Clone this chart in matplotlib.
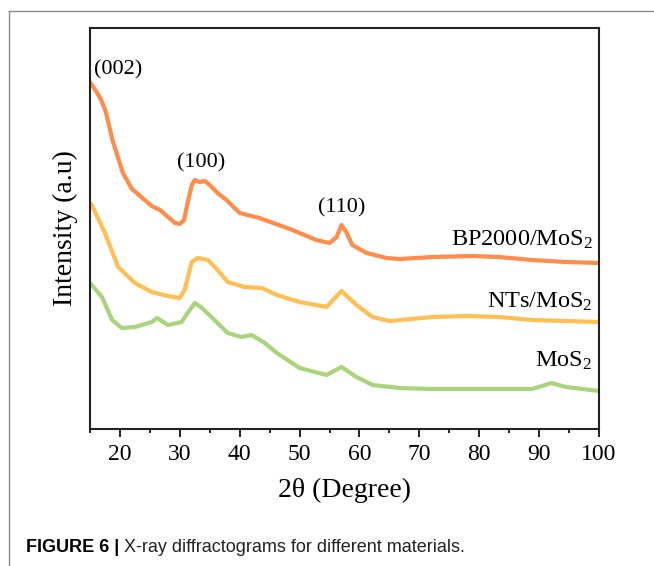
import matplotlib
matplotlib.use("Agg")
import matplotlib.pyplot as plt
from matplotlib.lines import Line2D
from matplotlib.ticker import MultipleLocator

plt.rcParams['font.family'] = ['Liberation Serif', 'DejaVu Serif']
plt.rcParams['mathtext.fontset'] = 'custom'
plt.rcParams['mathtext.rm'] = 'Liberation Serif'
plt.rcParams['mathtext.default'] = 'regular'

# ---------------- data (2theta in degrees, intensity in arbitrary units) ----
bp_x = [15.0, 16.0, 16.8, 17.6, 18.8, 20.5, 22.0, 22.8, 25.3, 26.7, 29.2, 30.0,
        30.7, 31.3, 32.0, 32.5, 33.3, 34.2, 35.0, 36.3, 37.8, 40.0, 43.3, 48.8,
        52.8, 55.0, 56.2, 57.0, 57.8, 58.8, 61.2, 64.5, 66.7, 72.2, 78.8, 83.3,
        88.8, 94.5, 100.0]
bp_y = [347, 338, 330, 318, 288, 256, 240, 236, 223, 219, 206, 205,
        209, 226, 244, 249, 247, 248, 244, 236, 229, 216, 211, 199,
        189, 186, 192, 204, 197, 184, 176, 171, 170, 172, 173, 172,
        169, 167, 166]

nts_x = [15.0, 15.3, 17.5, 19.7, 22.5, 25.3, 28.0, 30.0, 30.8, 32.0, 33.0, 34.7,
         36.3, 38.0, 40.8, 43.7, 46.2, 50.0, 54.5, 57.0, 59.5, 62.2, 65.0, 72.2,
         77.8, 83.3, 88.8, 94.5, 100.0]
nts_y = [226, 224, 196, 162, 146, 137, 133, 131, 139, 167, 171, 169,
         159, 147, 142, 141, 134, 127, 122, 138, 124, 112, 108, 112,
         113, 112, 109, 108, 107]

mos_x = [15.0, 15.3, 17.0, 18.7, 20.3, 22.5, 25.3, 26.2, 28.0, 30.3, 31.3, 32.5,
         33.7, 36.3, 38.0, 40.3, 42.0, 44.2, 46.2, 50.0, 54.5, 57.0, 59.5, 62.2,
         66.7, 72.2, 83.3, 88.8, 90.5, 92.0, 94.5, 100.0]
mos_y = [146, 144, 132, 109, 101, 102, 107, 111, 104, 107, 116, 126,
         121, 106, 96, 92, 94, 86, 76, 61, 54, 62, 52, 44,
         41, 40, 40, 40, 43, 46, 42, 38]

series_labels = ['BP2000/MoS$_2$', 'NTs/MoS$_2$', 'MoS$_2$']
peak_labels = ['(002)', '(100)', '(110)']
x_ticks = [20, 30, 40, 50, 60, 70, 80, 90, 100]

# ---------------- figure ----------------
W, H = 654, 566
fig = plt.figure(figsize=(W / 100, H / 100), dpi=100)

# outer page frame (top and left rule)
fig.add_artist(Line2D([9 / W, 1.0], [1 - 11 / H, 1 - 11 / H], color='#8a8a8a', lw=1.0))
fig.add_artist(Line2D([9 / W, 9 / W], [1 - 11 / H, 0.0], color='#8a8a8a', lw=1.0))

L, R, T, B = 90, 599, 28, 429
ax = fig.add_axes([L / W, 1 - B / H, (R - L) / W, (B - T) / H])

c_bp, c_nts, c_mos = '#FF8C4A', '#FFBF52', '#A9D47B'
for xs, ys, c in [(bp_x, bp_y, c_bp), (nts_x, nts_y, c_nts), (mos_x, mos_y, c_mos)]:
    ax.plot(xs, ys, color=c, lw=3.0, solid_joinstyle='round', solid_capstyle='butt')

ax.set_xlim(15, 100)
ax.set_ylim(0, 401)

ax.set_xticks(x_ticks)
ax.xaxis.set_minor_locator(MultipleLocator(5))
ax.tick_params(axis='x', which='major', direction='out', length=5.5, width=1.4,
               labelsize=17, pad=5, color='#222222')
ax.tick_params(axis='x', which='minor', direction='out', length=3.2, width=1.4,
               color='#222222')
ax.set_yticks([])
for s in ax.spines.values():
    s.set_linewidth(1.5)
    s.set_color('#222222')

ax.set_xlabel('2θ (Degree)', fontsize=20)
ax.xaxis.label.set_va('center')
ax.xaxis.set_label_coords(0.5, (B - 490) / (B - T))
ax.set_ylabel('Intensity (a.u)', fontsize=20)
ax.yaxis.label.set_va('center')
ax.yaxis.set_label_coords((65 - L) / (R - L), 0.5)

# peak annotations
ax.text(15.7, 359, peak_labels[0], fontsize=16, ha='left', va='center')
ax.text(33.5, 266, peak_labels[1], fontsize=16, ha='center', va='center')
ax.text(57.0, 221, peak_labels[2], fontsize=16, ha='center', va='center')

# series labels
ax.text(98.9, 183, series_labels[0], fontsize=17.5, ha='right', va='baseline')
ax.text(98.9, 121, series_labels[1], fontsize=17.5, ha='right', va='baseline')
ax.text(98.9, 62, series_labels[2], fontsize=17.5, ha='right', va='baseline')

# caption
cap_y = 1 - 547 / H
t1 = fig.text(26 / W, cap_y, 'FIGURE 6 | ', fontsize=13, fontweight='bold',
              family=['Liberation Sans', 'DejaVu Sans'], va='center', ha='left')
fig.canvas.draw()
bb = t1.get_window_extent(renderer=fig.canvas.get_renderer())
fig.text(bb.x1 / W, cap_y, 'X-ray diffractograms for different materials.',
         fontsize=13, family=['Liberation Sans', 'DejaVu Sans'], va='center',
         ha='left', color='#222222')

fig.savefig('out.png', dpi=100)
